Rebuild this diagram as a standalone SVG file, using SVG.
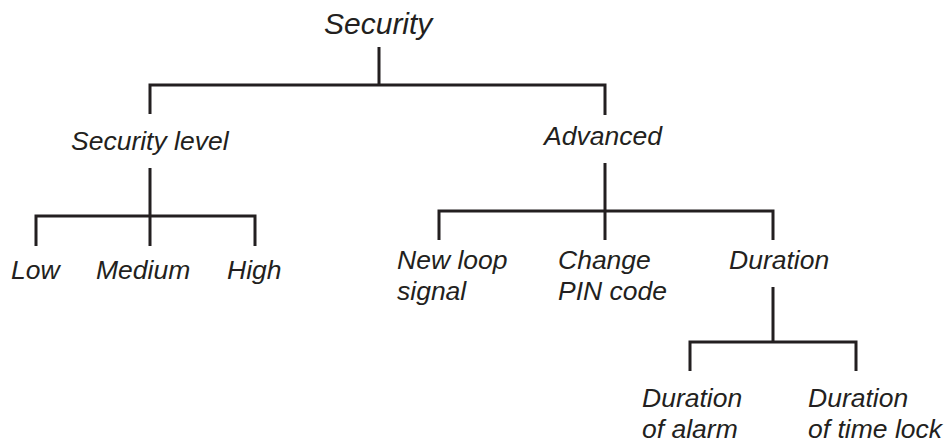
<svg xmlns="http://www.w3.org/2000/svg" width="949" height="444" viewBox="0 0 949 444">
<style>
text{font-family:"Liberation Sans",Arial,sans-serif;font-style:italic;font-size:26.5px;fill:#231f20}
.t{font-size:30px}
.c path{fill:none;stroke:#231f20;stroke-width:3;stroke-linecap:butt}
</style>
<rect width="949" height="444" fill="#fff"/>
<g class="c" id="connectors">
<path d="M379 47V85M150 114V85H605V115"/>
<path d="M150 168V216M36 246V216H255V246M150 216V246"/>
<path d="M605 163V211M439 240V211H773V240M605 211V240"/>
<path d="M773 287V342M690 371V342H856V371"/>
</g>
<g id="n-security"><text class="t" x="324" y="34">Security</text></g>
<g id="n-level"><text x="71" y="150">Security level</text></g>
<g id="n-advanced"><text x="544" y="145">Advanced</text></g>
<g id="n-low"><text x="11" y="279">Low</text></g>
<g id="n-medium"><text x="96" y="279">Medium</text></g>
<g id="n-high"><text x="227" y="279">High</text></g>
<g id="n-newloop"><text x="397" y="269">New loop</text><text x="397" y="300">signal</text></g>
<g id="n-pin"><text x="558" y="269">Change</text><text x="558" y="300">PIN code</text></g>
<g id="n-duration"><text x="729" y="269">Duration</text></g>
<g id="n-alarm"><text x="642" y="407">Duration</text><text x="642" y="438">of alarm</text></g>
<g id="n-timelock"><text x="808" y="407">Duration</text><text x="808" y="438">of time lock</text></g>
</svg>
